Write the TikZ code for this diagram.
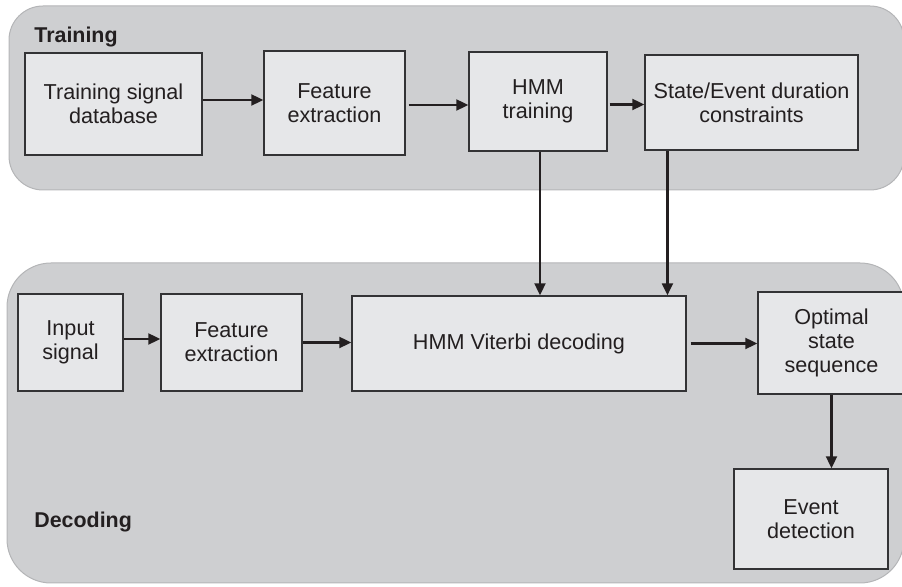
\documentclass[tikz,border=0pt]{standalone}
\usepackage{fontspec}
\setmainfont{Liberation Sans}
\usetikzlibrary{arrows.meta,calc}

\definecolor{panelfill}{HTML}{CECFD1}
\definecolor{panelline}{HTML}{B4B5B7}
\definecolor{boxfill}{HTML}{E6E7E9}
\definecolor{boxline}{HTML}{333335}
\definecolor{ink}{HTML}{231F20}

\newcommand{\blkfont}{\fontsize{10.8}{12}\selectfont}
\newcommand{\ttlfont}{\fontsize{10.7}{12}\selectfont\bfseries}

\tikzset{
  panel/.style={draw=panelline, fill=panelfill, line width=0.5pt},
  blk/.style={draw=boxline, fill=boxfill, line width=0.7pt, inner sep=0pt,
              align=center, font=\blkfont, text=ink},
  ttl/.style={anchor=base west, font=\ttlfont, text=ink, inner sep=0pt},
  flow/.style={draw=ink, line width=1.05pt,
               -{Triangle[length=6pt,width=5.5pt]}},
}

\begin{document}
\begin{tikzpicture}[x=0.5pt, y=-0.5pt]
  \useasboundingbox (0,0) rectangle (902,587);

  % the two stages
  \draw[panel, rounded corners=17pt] (9,6) rectangle (904,190);
  \draw[panel, rounded corners=22pt] (7,263) rectangle (904,583);

  \node[ttl] (trainlbl) at (34,43) {Training};
  \node[ttl] (declbl) at (34,528) {Decoding};

  % training stage
  \node[blk, minimum width=88.5pt, minimum height=51pt] (tsd) at (113.5,104)
    {Training signal\\database};
  \node[blk, minimum width=70.5pt, minimum height=52pt] (fea) at (334.5,103)
    {Feature\\extraction};
  \node[blk, minimum width=69pt, minimum height=49.5pt] (hmm) at (538,101.5)
    {HMM\\training};
  \node[blk, minimum width=106.5pt, minimum height=47.5pt] (sed) at (751.5,102.5)
    {State/Event duration\\constraints};

  % decoding stage
  \node[blk, minimum width=52.5pt, minimum height=48.5pt] (inp) at (70.5,342.5)
    {Input\\signal};
  \node[blk, minimum width=70.5pt, minimum height=48.5pt] (feb) at (231.5,342.5)
    {Feature\\extraction};
  \node[blk, minimum width=167pt, minimum height=47.5pt] (vit) at (519,343.5)
    {HMM Viterbi decoding};
  \node[blk, minimum width=73.5pt, minimum height=51pt] (opt) at (831.5,343)
    {Optimal\\state\\sequence};
  \node[blk, minimum width=77pt, minimum height=50pt] (evt) at (811,519)
    {Event\\detection};

  % connectors
  \draw[flow] ([yshift=2pt]tsd.east) -- ([yshift=2pt]tsd.east -| fea.west);
  \draw[flow] ([xshift=1.5pt,yshift=-1pt]fea.east) -- ([yshift=-1pt]fea.east -| hmm.west);
  \draw[flow] ([xshift=1pt,yshift=-1.5pt]hmm.east) -- ([yshift=-1.5pt]hmm.east -| sed.west);

  \draw[flow] ([xshift=1pt]hmm.south) -- ([xshift=1pt]hmm.south |- vit.north);
  \coordinate (sedout) at ($(sed.south west)!0.108!(sed.south east)$);
  \draw[flow] (sedout) -- (sedout |- vit.north);

  \draw[flow] ([yshift=1.75pt]inp.east) -- ([yshift=1.75pt]inp.east -| feb.west);
  \draw[flow] (feb.east) -- (feb.east -| vit.west);
  \draw[flow] ([xshift=2pt]vit.east) -- (vit.east -| opt.west);
  \draw[flow] (opt.south) -- (opt.south |- evt.north);
\end{tikzpicture}
\end{document}
